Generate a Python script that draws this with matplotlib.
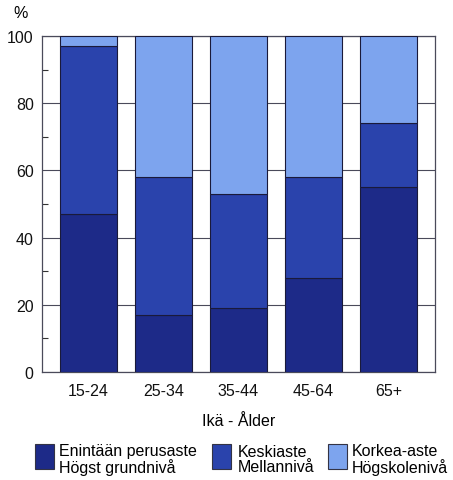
import matplotlib
matplotlib.use("Agg")
import matplotlib.pyplot as plt
from matplotlib.patches import Rectangle
import numpy as np

plt.rcParams['font.family'] = ['Liberation Sans', 'DejaVu Sans']

categories = ["15-24", "25-34", "35-44", "45-64", "65+"]
basic = [47, 17, 19, 28, 55]
middle = [50, 41, 34, 30, 19]
higher = [3, 42, 47, 42, 26]
series_labels = ["Enintään perusaste\nHögst grundnivå",
                 "Keskiaste\nMellannivå",
                 "Korkea-aste\nHögskolenivå"]
colors = ["#1d2a88", "#2a43ac", "#7da4ee"]
yticks = [0, 20, 40, 60, 80, 100]

W, H = 453, 481
fig = plt.figure(figsize=(W / 100, H / 100), dpi=100)
ax = fig.add_axes([42 / W, 1 - 373 / H, (435 - 42) / W, (373 - 37) / H])

x = np.arange(len(categories))
bottom = np.zeros(len(categories))
for vals, col in zip([basic, middle, higher], colors):
    ax.bar(x, vals, width=0.75, bottom=bottom, color=col,
           edgecolor="#1a1a3a", linewidth=0.8, zorder=3)
    bottom += np.array(vals)

ax.set_xlim(-0.62, 4.62)
ax.set_ylim(0, 100)
ax.set_yticks(yticks)
ax.set_yticks(range(10, 100, 20), minor=True)
ax.yaxis.grid(True, which="major", color="#4a4a5a", linewidth=0.8, zorder=0)
ax.set_axisbelow(True)
ax.tick_params(axis="y", which="major", length=0, labelsize=11.5, pad=6, colors="#111111")
ax.tick_params(axis="y", which="minor", direction="in", length=4, width=0.8, color="#333333")
ax.tick_params(axis="x", length=0, labelsize=11.5, pad=8, colors="#111111")
ax.set_xticks(x)
ax.set_xticklabels(categories)
for s in ax.spines.values():
    s.set_color("#4a4a5a")
    s.set_linewidth(0.9)

fig.text(13 / W, 1 - 14 / H, "%", fontsize=11.5, ha="left", va="center")
ax.set_xlabel("Ikä - Ålder", fontsize=11.5, labelpad=11)

patch_x = [35, 212, 328]
text_x = [59, 238, 352]
for px, tx, col, lab in zip(patch_x, text_x, colors, series_labels):
    fig.patches.append(Rectangle((px / W, 1 - 470 / H), 19 / W, 25 / H,
                                 transform=fig.transFigure, facecolor=col,
                                 edgecolor="#333344", linewidth=0.8))
    fig.text(tx / W, 1 - 460 / H, lab, fontsize=11.5, ha="left", va="center",
             linespacing=1.05)

fig.savefig("out.png", dpi=100)
